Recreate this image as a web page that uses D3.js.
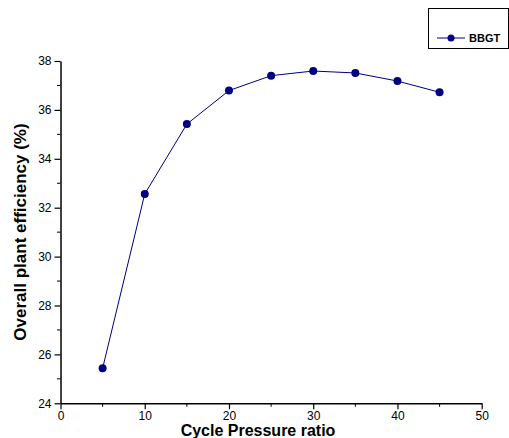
<!DOCTYPE html>
<html><head><meta charset="utf-8">
<script src="https://cdn.jsdelivr.net/npm/d3@7"></script>
<style>body{margin:0;background:#fff}svg{display:block}text{font-family:Arial,"Liberation Sans",sans-serif}</style>
</head><body>
<script>
const pressureRatio = [5, 10, 15, 20, 25, 30, 35, 40, 45];
const efficiency = [25.43, 32.56, 35.42, 36.79, 37.40, 37.59, 37.51, 37.18, 36.72];
const seriesName = "BBGT";
const xTicks = [0, 10, 20, 30, 40, 50];
const yTicks = [24, 26, 28, 30, 32, 34, 36, 38];

const W = 509, H = 438;
const svg = d3.select("body").append("svg").attr("width", W).attr("height", H);
const x = d3.scaleLinear().domain([0, 50]).range([60.5, 481.7]);
const y = d3.scaleLinear().domain([24, 38]).range([403.3, 61]);
const color = "#000080";

// minor ticks
svg.append("g").selectAll("line").data(d3.range(25, 38, 2)).join("line")
  .attr("x1", 60.5).attr("x2", 57).attr("y1", d => y(d)).attr("y2", d => y(d))
  .attr("stroke", "#000").attr("stroke-width", 1);
svg.append("g").selectAll("line").data(d3.range(5, 50, 10)).join("line")
  .attr("y1", 403.3).attr("y2", 406.8).attr("x1", d => x(d)).attr("x2", d => x(d))
  .attr("stroke", "#000").attr("stroke-width", 1);

const xAxis = svg.append("g").attr("transform", "translate(0,403.3)")
  .call(d3.axisBottom(x).tickValues(xTicks).tickSize(6).tickPadding(2).tickSizeOuter(0));
const yAxis = svg.append("g").attr("transform", "translate(60.5,0)")
  .call(d3.axisLeft(y).tickValues(yTicks).tickSize(6).tickPadding(3).tickSizeOuter(0));
[xAxis, yAxis].forEach(a => {
  a.select(".domain").attr("stroke", "#000").attr("stroke-width", 1.5);
  a.selectAll(".tick line").attr("stroke", "#000").attr("stroke-width", 1.2);
  a.selectAll("text").attr("fill", "#000").style("font-size", "12px").style("font-family", "Arial, 'Liberation Sans', sans-serif");
});

const line = d3.line().x((d, i) => x(pressureRatio[i])).y(d => y(d));
svg.append("path").datum(efficiency).attr("d", line).attr("fill", "none")
  .attr("stroke", color).attr("stroke-width", 1);
svg.append("g").selectAll("circle").data(efficiency).join("circle")
  .attr("cx", (d, i) => x(pressureRatio[i])).attr("cy", d => y(d)).attr("r", 4).attr("fill", color);

// axis titles
svg.append("text").attr("x", 258).attr("y", 436).attr("text-anchor", "middle")
  .style("font-size", "16px").style("font-weight", "bold").text("Cycle Pressure ratio");
svg.append("text").attr("transform", "translate(25.5,232) rotate(-90)").attr("text-anchor", "middle")
  .style("font-size", "17px").style("font-weight", "bold").text("Overall plant efficiency (%)");

// legend
const lg = svg.append("g");
lg.append("rect").attr("x", 428.5).attr("y", 8.5).attr("width", 80).attr("height", 40)
  .attr("fill", "none").attr("stroke", "#000").attr("stroke-width", 1);
lg.append("line").attr("x1", 437).attr("x2", 465).attr("y1", 38).attr("y2", 38).attr("stroke", color).attr("stroke-width", 1);
lg.append("circle").attr("cx", 451).attr("cy", 38).attr("r", 3.5).attr("fill", color);
lg.append("text").attr("x", 469).attr("y", 42).style("font-size", "11px").style("font-weight", "bold").text(seriesName);
</script>
</body></html>
